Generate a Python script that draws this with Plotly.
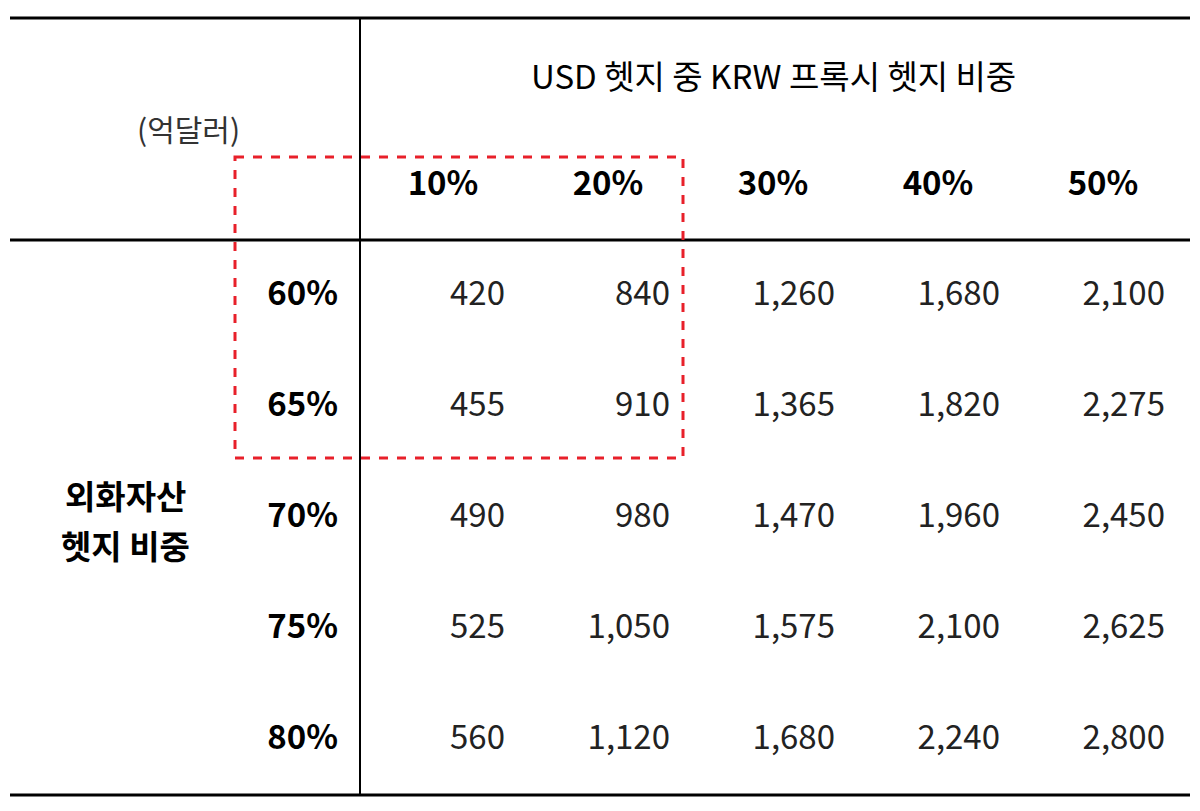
import plotly.graph_objects as go

col_labels = ["10%", "20%", "30%", "40%", "50%"]
row_labels = ["60%", "65%", "70%", "75%", "80%"]
values = [
    [420, 840, 1260, 1680, 2100],
    [455, 910, 1365, 1820, 2275],
    [490, 980, 1470, 1960, 2450],
    [525, 1050, 1575, 2100, 2625],
    [560, 1120, 1680, 2240, 2800],
]
col_title = "USD 헷지 중 KRW 프록시 헷지 비중"
row_title = ["외화자산", "헷지 비중"]
unit = "(억달러)"

FONT = "Noto Sans CJK KR"
col_right = [505, 670, 835, 1000, 1165]
col_center = [443, 608, 773, 938, 1103]
row_y = [297, 408, 519, 630, 741]

fig = go.Figure()

# header row
fig.add_trace(go.Scatter(
    x=col_center, y=[187] * 5, mode="text", text=[f"<b>{c}</b>" for c in col_labels],
    textfont=dict(family=FONT, size=33, color="black"), hoverinfo="skip"))

# row labels
fig.add_trace(go.Scatter(
    x=[338] * 5, y=row_y, mode="text", text=[f"<b>{r}</b>" for r in row_labels],
    textposition="middle left",
    textfont=dict(family=FONT, size=33, color="black"), hoverinfo="skip"))

# body cells
for i, row in enumerate(values):
    fig.add_trace(go.Scatter(
        x=col_right, y=[row_y[i]] * 5, mode="text",
        text=[f"{v:,}" for v in row], textposition="middle left",
        textfont=dict(family=FONT, size=33, color="#222"), hoverinfo="skip"))

fig.add_annotation(x=773, y=75, text=col_title, showarrow=False,
                   font=dict(family=FONT, size=33, color="black"))
fig.add_annotation(x=188, y=128, text=unit, showarrow=False,
                   font=dict(family=FONT, size=30, color="#333"))
fig.add_annotation(x=125, y=495, text=f"<b>{row_title[0]}</b>", showarrow=False,
                   font=dict(family=FONT, size=33, color="black"))
fig.add_annotation(x=125, y=545, text=f"<b>{row_title[1]}</b>", showarrow=False,
                   font=dict(family=FONT, size=33, color="black"))

line = dict(color="black", width=3)
fig.add_shape(type="line", x0=10, x1=1190, y0=18, y1=18, line=line)
fig.add_shape(type="line", x0=10, x1=1190, y0=240, y1=240, line=line)
fig.add_shape(type="line", x0=10, x1=1190, y0=795, y1=795, line=line)
fig.add_shape(type="line", x0=360, x1=360, y0=18, y1=795, line=dict(color="black", width=2))
fig.add_shape(type="rect", x0=235, x1=683, y0=157, y1=458,
              line=dict(color="#e8202a", width=3, dash="dash"))

fig.update_layout(
    width=1200, height=811, margin=dict(l=0, r=0, t=0, b=0),
    plot_bgcolor="white", paper_bgcolor="white", showlegend=False,
    xaxis=dict(range=[8, 1208], visible=False, fixedrange=True),
    yaxis=dict(range=[819, 8], visible=False, fixedrange=True),
)

fig.write_html("out.html")
